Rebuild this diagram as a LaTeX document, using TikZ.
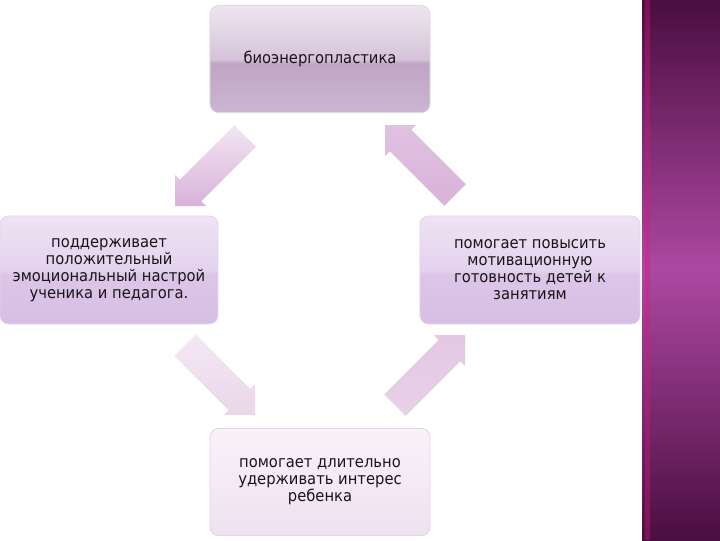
\documentclass[tikz,border=0pt]{standalone}
\usepackage{fontspec}
\setmainfont{DejaVu Sans}[FakeStretch=0.92]
\usetikzlibrary{calc}
\definecolor{txt}{HTML}{1A1418}
\definecolor{boxline}{HTML}{E2D6E6}
\definecolor{tgA}{HTML}{CAB6D0}
\definecolor{tgB}{HTML}{C0A6C5}
\definecolor{tgC}{HTML}{D6C4DA}
\definecolor{tgD}{HTML}{EEE5F0}
\definecolor{sgA}{HTML}{D6BEE4}
\definecolor{sgB}{HTML}{DCC6E8}
\definecolor{sgC}{HTML}{E4D2EE}
\definecolor{sgD}{HTML}{EFE3F4}
\definecolor{brA}{HTML}{4A0E40}
\definecolor{brB}{HTML}{AD48A2}
\pgfdeclareverticalshading{topglass}{100bp}{color(0bp)=(tgA);
  color(25bp)=(tgA); color(48bp)=(tgB); color(50bp)=(tgC); color(75bp)=(tgD); color(100bp)=(tgD)}
\pgfdeclareverticalshading{sideglass}{100bp}{color(0bp)=(sgA);
  color(25bp)=(sgA); color(48bp)=(sgB); color(50bp)=(sgC); color(75bp)=(sgD); color(100bp)=(sgD)}
\pgfdeclareverticalshading{barshade}{100bp}{color(0bp)=(brA);
  color(25bp)=(brA); color(50bp)=(brB); color(75bp)=(brA); color(100bp)=(brA)}
\newcommand\fatarrow[4]{% tail, tip, top colour, bottom colour
  \coordinate (#1J) at ($(#2)!0.55cm!(#1)$);
  \shade[top color=#3, bottom color=#4]
    ($(#1)!0.38cm!90:(#2)$) -- ($(#1J)!0.38cm!90:(#2)$) -- ($(#1J)!0.55cm!90:(#2)$)
    -- (#2) -- ($(#1J)!0.55cm!-90:(#2)$) -- ($(#1J)!0.38cm!-90:(#2)$)
    -- ($(#1)!0.38cm!-90:(#2)$) -- cycle;
}
\begin{document}
\begin{tikzpicture}[x=0.025cm, y=-0.025cm,
  box/.style={draw=boxline, line width=0.6pt, rounded corners=0.22cm,
    minimum width=5.5cm, minimum height=2.7cm, align=center,
    text=txt, font=\fontsize{11.4}{12.1}\selectfont, inner sep=2pt},
  topbox/.style={box, shading=topglass},
  sidebox/.style={box, shading=sideglass},
]
\useasboundingbox (0,0) rectangle (720,540);
% right decorative bar
\shade[shading=barshade] (642,0) rectangle (720,540);
\fill[magenta!70!purple, opacity=0.35] (645,0) rectangle (650,540);

\node[topbox, minimum height=2.68cm] (top) at (320,59) {биоэнергопластика};
\node[sidebox, minimum width=5.45cm] (left) at (109,270)
  {поддерживает\\положительный\\эмоциональный настрой\\ученика и педагога.};
\node[sidebox] (right) at (530,270)
  {помогает повысить\\мотивационную\\готовность детей к\\занятиям};
\node[box, top color=violet!5, bottom color=violet!12, minimum height=2.68cm] (bot) at (320,482)
  {помогает длительно\\удерживать интерес\\ребенка};

% connectors (fat arrows)
\coordinate (aT) at (245,136); \coordinate (aH) at (175,206);
\coordinate (bT) at (455,195); \coordinate (bH) at (385,125);
\coordinate (cT) at (185,345); \coordinate (cH) at (255,415);
\coordinate (dT) at (395,405); \coordinate (dH) at (465,335);
\fatarrow{aT}{aH}{violet!10}{violet!30}
\fatarrow{bT}{bH}{violet!24}{violet!30}
\fatarrow{cT}{cH}{violet!9}{violet!16}
\fatarrow{dT}{dH}{violet!22}{violet!18}
\end{tikzpicture}
\end{document}
